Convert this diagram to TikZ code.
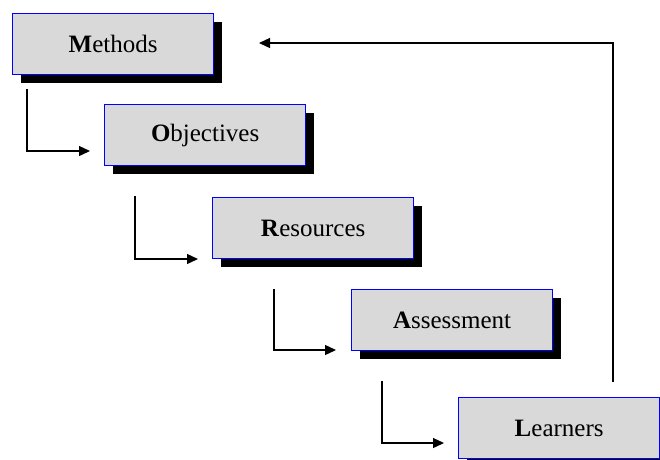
\documentclass[tikz,border=0pt]{standalone}
\usepackage{fontspec}
\setmainfont{Liberation Serif}
\usetikzlibrary{arrows.meta,shadows}
\definecolor{boxgray}{RGB}{217,217,217}
\begin{document}
\begin{tikzpicture}[x=1pt,y=-1pt,
  stagebox/.style={draw=blue, line width=1.3pt, fill=boxgray, anchor=north west,
    minimum width=201pt, minimum height=61pt, inner sep=0pt,
    font=\fontsize{25}{30}\selectfont,
    drop shadow={shadow xshift=8pt, shadow yshift=-8pt, fill=black, opacity=1}},
  link/.style={draw=black, line width=1.3pt, -{Triangle[length=11pt,width=10pt]}}
]
\useasboundingbox (0,0) rectangle (660,459);
\node[stagebox] (methods) at (12,13) {\textbf{M}ethods};
\node[stagebox] (objectives) at (104,104) {\textbf{O}bjectives};
\node[stagebox] (resources) at (212,197) {\textbf{R}esources};
\node[stagebox] (assessment) at (351,289) {\textbf{A}ssessment};
\node[stagebox] (learners) at (458,397) {\textbf{L}earners};

\coordinate (s1) at (27,89);  \coordinate (e1) at (90,151);
\coordinate (s2) at (135,196); \coordinate (e2) at (198,259);
\coordinate (s3) at (274,289); \coordinate (e3) at (336,350);
\coordinate (s4) at (382,381); \coordinate (e4) at (444,443);
\coordinate (fb) at (613,382); \coordinate (fe) at (259,43);

\draw[link] (s1) |- (e1);
\draw[link] (s2) |- (e2);
\draw[link] (s3) |- (e3);
\draw[link] (s4) |- (e4);
\draw[link] (fb) |- (fe);
\end{tikzpicture}
\end{document}
